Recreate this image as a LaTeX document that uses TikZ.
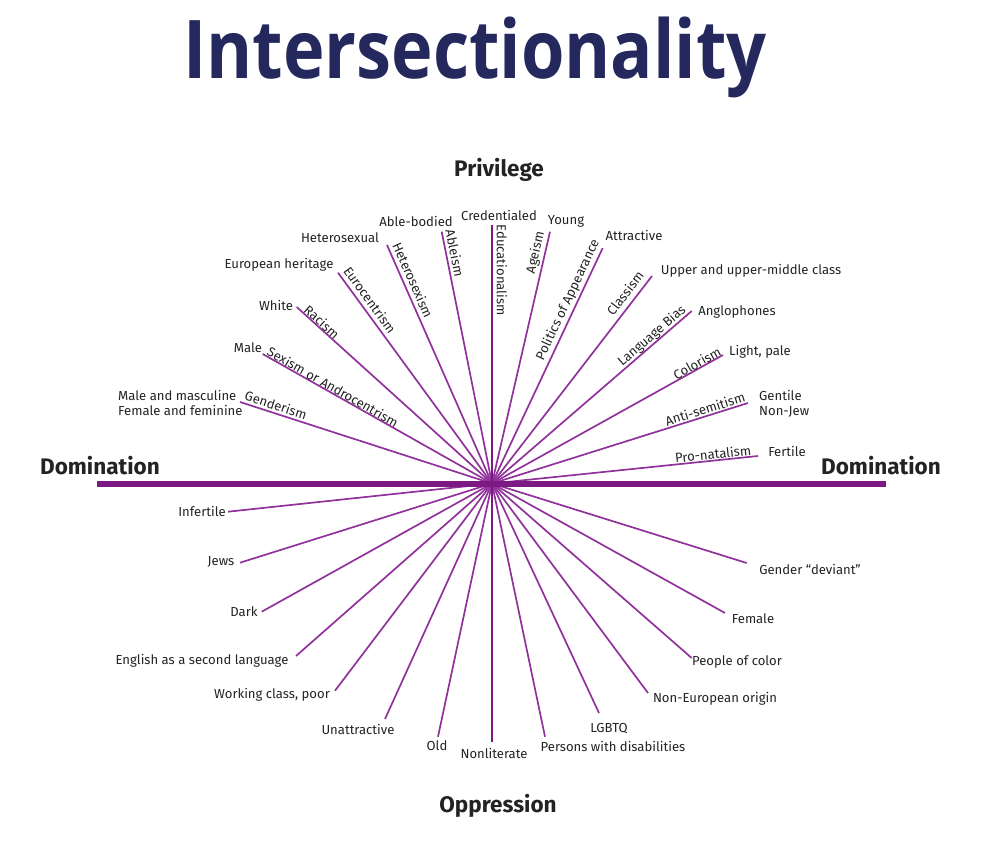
\documentclass[tikz,border=0pt]{standalone}
\usepackage{fontspec}
\setmainfont{Fira Sans}
\newfontfamily\titlefont{Open Sans}
\definecolor{spoke}{RGB}{145,50,155}
\definecolor{barc}{RGB}{125,25,130}
\definecolor{navy}{RGB}{36,40,92}
\definecolor{ink}{RGB}{35,35,35}
\begin{document}
\begin{tikzpicture}[x=1pt,y=-1pt,
  lbl/.style={inner sep=0pt, text=ink, font=\fontsize{13.1}{15}\selectfont},
  axislbl/.style={inner sep=0pt, text=ink, font=\fontsize{22.5}{26}\selectfont\bfseries},
  spokeline/.style={draw=spoke, line width=1.7pt},
  vline/.style={draw=barc, line width=2.4pt},
  hbar/.style={draw=barc, line width=6pt}]
\useasboundingbox (0,0) rectangle (985,843);
% title
\node[inner sep=0pt, anchor=base west, text=navy, font=\titlefont\fontsize{81}{90}\selectfont\bfseries] (title) at (183,78) {\scalebox{0.868}[1]{Intersectionality}};
% centre and axes
\coordinate (c) at (492,483.5);
\coordinate (vt) at (492,225);
\coordinate (vb) at (492,742);
\coordinate (hl) at (97,483.5);
\coordinate (hr) at (886,483.5);
% spoke ends
\coordinate (gend) at (240,402);
\coordinate (sex) at (262.7,354);
\coordinate (rac) at (296.7,307);
\coordinate (euro) at (338,272.7);
\coordinate (het) at (387,245);
\coordinate (able) at (441.7,231.7);
\coordinate (age) at (550,231.7);
\coordinate (pol) at (602.7,248);
\coordinate (cla) at (652,276);
\coordinate (lang) at (691.7,311);
\coordinate (col) at (723,355);
\coordinate (anti) at (748,403);
\coordinate (pro) at (758,456);
\coordinate (inf) at (228,511.7);
\coordinate (jew) at (240,562.7);
\coordinate (dark) at (261.7,611.7);
\coordinate (esl) at (296,656);
\coordinate (work) at (335,690.7);
\coordinate (unat) at (385,719);
\coordinate (old) at (438,736.7);
\coordinate (pwd) at (545,736.7);
\coordinate (lgb) at (599,713);
\coordinate (noneu) at (648,693);
\coordinate (poc) at (691.7,658);
\coordinate (fem) at (725,613);
\coordinate (gdev) at (746.7,563);
\foreach \e in {gend,sex,rac,euro,het,able,age,pol,cla,lang,col,anti,pro,inf,jew,dark,esl,work,unat,old,pwd,lgb,noneu,poc,fem,gdev}
  \draw[spokeline] (c) -- (\e);
\draw[vline] (vt) -- (vb);
\draw[hbar] (hl) -- (hr);
% axis labels
\node[axislbl] (priv) at (499,170) {Privilege};
\node[axislbl] (domL) at (100,466) {Domination};
\node[axislbl] (domR) at (881,466) {Domination};
\node[axislbl] (opp) at (498,806) {Oppression};
% rotated system labels
\node[lbl, rotate=-17.9] (lgend) at (276,405) {Genderism};
\node[lbl, rotate=-29.5] (lsex) at (333,387) {Sexism or Androcentrism};
\node[lbl, rotate=-42] (lrac) at (322,322) {Racism};
\node[lbl, rotate=-53.9] (leuro) at (370,300) {Eurocentrism};
\node[lbl, rotate=-66.2] (lhet) at (413,280) {Heterosexism};
\node[lbl, rotate=-78.7] (lable) at (455,253) {Ableism};
\node[lbl, rotate=-90] (ledu) at (502,270) {Educationalism};
\node[lbl, rotate=77] (lage) at (535.7,252.7) {Ageism};
\node[lbl, rotate=64.8] (lpol) at (568,300) {Politics of Appearance};
\node[lbl, rotate=52.4] (lcla) at (625,293) {Classism};
\node[lbl, rotate=40.8] (llang) at (652,336) {Language Bias};
\node[lbl, rotate=29.1] (lcol) at (697,363) {Colorism};
\node[lbl, rotate=17.5] (lanti) at (705,409) {Anti-semitism};
\node[lbl, rotate=5.9] (lpro) at (713,454) {Pro-natalism};
% privileged groups
\node[lbl] (tcred) at (499,215) {Credentialed};
\node[lbl] (table) at (416,221) {Able-bodied};
\node[lbl] (thet) at (340,238) {Heterosexual};
\node[lbl] (teuro) at (279,265) {European heritage};
\node[lbl] (twhite) at (276,305) {White};
\node[lbl] (tmale) at (248,348) {Male};
\node[lbl, anchor=west, align=left] (tgend) at (118,402.5) {Male and masculine\\Female and feminine};
\node[lbl] (tyoung) at (566,221) {Young};
\node[lbl] (tattr) at (634,235) {Attractive};
\node[lbl] (tupper) at (751,271) {Upper and upper-middle class};
\node[lbl] (tangl) at (737,312) {Anglophones};
\node[lbl] (tlight) at (760,352) {Light, pale};
\node[lbl, anchor=west, align=left] (tgent) at (759,403.5) {Gentile\\Non-Jew};
\node[lbl] (tfert) at (787,451) {Fertile};
% oppressed groups
\node[lbl] (binf) at (202,511) {Infertile};
\node[lbl] (bjew) at (221,562) {Jews};
\node[lbl] (bdark) at (244,612) {Dark};
\node[lbl] (besl) at (202,661) {English as a second language};
\node[lbl] (bwork) at (272,695) {Working class, poor};
\node[lbl] (bunat) at (358,729) {Unattractive};
\node[lbl] (bold) at (437,746) {Old};
\node[lbl] (bnonl) at (494,753) {Nonliterate};
\node[lbl] (bpwd) at (613,746) {Persons with disabilities};
\node[lbl] (blgb) at (609,729) {LGBTQ};
\node[lbl] (bnoneu) at (715,699) {Non-European origin};
\node[lbl] (bpoc) at (737,662) {People of color};
\node[lbl] (bfem) at (753,619) {Female};
\node[lbl] (bgdev) at (810,569) {Gender ``deviant''};
\end{tikzpicture}
\end{document}
